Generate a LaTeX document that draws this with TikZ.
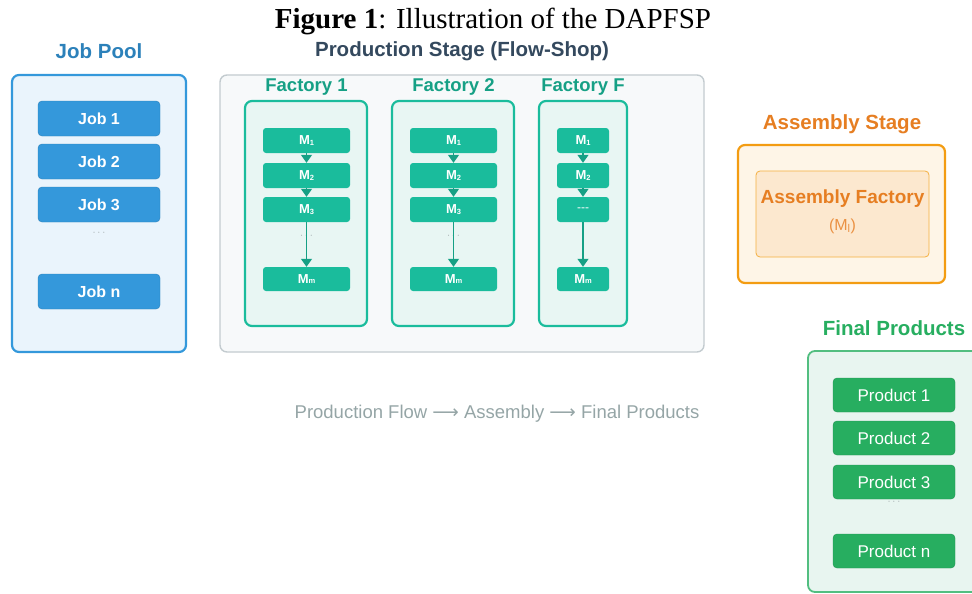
\documentclass[tikz,border=0pt]{standalone}
\usepackage{fontspec}
\setmainfont{Liberation Sans}
\newfontfamily\serifface{Liberation Serif}
\newfontfamily\arrowface{DejaVu Sans}
\usetikzlibrary{arrows.meta}

\definecolor{jobblue}{HTML}{3498DB}
\definecolor{poolfill}{HTML}{EAF4FC}
\definecolor{stagegray}{HTML}{C3CBCF}
\definecolor{stagefill}{HTML}{F7F9FA}
\definecolor{slate}{HTML}{34495E}
\definecolor{teal}{HTML}{1ABC9C}
\definecolor{tealdark}{HTML}{16A085}
\definecolor{factfill}{HTML}{E8F6F3}
\definecolor{orangeline}{HTML}{F39C12}
\definecolor{orangetext}{HTML}{E67E22}
\definecolor{asmfill}{HTML}{FEF5E7}
\definecolor{asminner}{HTML}{FCE8CF}
\definecolor{asminnerline}{HTML}{F5B041}
\definecolor{prodgreen}{HTML}{27AE60}
\definecolor{finalfill}{HTML}{E8F5F0}
\definecolor{captiongray}{HTML}{95A5A6}
\definecolor{dotgray}{HTML}{7F8C8D}

% small machine index, set low beside the M
\newcommand\machidx[1]{\raisebox{-0.8pt}{\fontsize{7.5}{7.5}\selectfont #1}}

\tikzset{
  panel/.style={draw, line width=2.2pt, rounded corners=7pt, inner sep=0pt},
  jobbox/.style={fill=jobblue, draw=jobblue!85!black, line width=0.4pt, rounded corners=4pt,
    minimum width=122pt, minimum height=35pt, text=white, font=\fontsize{16}{18}\selectfont\bfseries, inner sep=0pt},
  machbox/.style={fill=teal, rounded corners=3pt, minimum height=25pt, text=white,
    font=\fontsize{13}{15}\selectfont\bfseries, inner sep=0pt},
  prodbox/.style={fill=prodgreen, draw=prodgreen!85!black, line width=0.4pt, rounded corners=4pt,
    minimum width=122pt, minimum height=34pt, text=white, font=\fontsize{17}{19}\selectfont, inner sep=0pt},
  paneltitle/.style={font=\fontsize{20.5}{22}\selectfont\bfseries, inner sep=0pt},
  facttitle/.style={font=\fontsize{18.5}{20}\selectfont\bfseries, inner sep=0pt, text=tealdark},
  dots/.style={text=dotgray!70, font=\fontsize{11}{11}\selectfont, inner sep=0pt},
  flow/.style={draw=tealdark, line width=1.3pt, -{Triangle[length=8pt,width=11pt]}},
}

\begin{document}
\begin{tikzpicture}[x=1pt,y=-1pt]
\useasboundingbox (0,0) rectangle (972,594);
\clip (0,0) rectangle (972,594);

% caption
\node[font=\serifface\fontsize{29}{31}\selectfont, inner sep=0pt] (caption) at (493,21)
  {\textbf{Figure 1}: Illustration of the DAPFSP};

% ---------------- job pool ----------------
\node[paneltitle, text=jobblue!85!black] (pooltitle) at (99,51) {Job Pool};
\node[panel, draw=jobblue, fill=poolfill, minimum width=174pt, minimum height=277pt] (pool) at (99,213.5) {};
\node[jobbox] (job1) at (99,118.5) {Job 1};
\node[jobbox] (job2) at (99,161.5) {Job 2};
\node[jobbox] (job3) at (99,204.5) {Job 3};
\node[dots] (jobdots) at (99,233) {$\cdots$};
\node[jobbox] (jobn) at (99,291.5) {Job n};

% ---------------- production stage ----------------
\node[paneltitle, text=slate] (stagetitle) at (462,51) {Production Stage (Flow-Shop)};
\node[draw=stagegray, line width=1.4pt, fill=stagefill, rounded corners=7pt, inner sep=0pt,
  minimum width=484pt, minimum height=277pt] (stage) at (462,213.5) {};

% factory 1
\node[facttitle] (f1title) at (306.5,87) {Factory 1};
\node[panel, draw=teal, fill=factfill, minimum width=122pt, minimum height=225pt] (f1) at (306,213.5) {};
\node[machbox, minimum width=87pt] (f1m1) at (306.5,140.5) {M\machidx{1}};
\node[machbox, minimum width=87pt] (f1m2) at (306.5,175.5) {M\machidx{2}};
\node[machbox, minimum width=87pt] (f1m3) at (306.5,209.5) {M\machidx{3}};
\node[machbox, minimum width=87pt, minimum height=24pt] (f1mm) at (306.5,279) {M\machidx{m}};
\node[dots] (f1dots) at (306.5,236) {$\cdots$};
\draw[flow] (f1m1) -- (f1m2);
\draw[flow] (f1m2) -- (f1m3);
\draw[flow] (f1m3) -- (f1mm);

% factory 2
\node[facttitle] (f2title) at (453.5,87) {Factory 2};
\node[panel, draw=teal, fill=factfill, minimum width=122pt, minimum height=225pt] (f2) at (453,213.5) {};
\node[machbox, minimum width=87pt] (f2m1) at (453.5,140.5) {M\machidx{1}};
\node[machbox, minimum width=87pt] (f2m2) at (453.5,175.5) {M\machidx{2}};
\node[machbox, minimum width=87pt] (f2m3) at (453.5,209.5) {M\machidx{3}};
\node[machbox, minimum width=87pt, minimum height=24pt] (f2mm) at (453.5,279) {M\machidx{m}};
\node[dots] (f2dots) at (453.5,236) {$\cdots$};
\draw[flow] (f2m1) -- (f2m2);
\draw[flow] (f2m2) -- (f2m3);
\draw[flow] (f2m3) -- (f2mm);

% factory F
\node[facttitle] (fFtitle) at (583,87) {Factory F};
\node[panel, draw=teal, fill=factfill, minimum width=88pt, minimum height=225pt] (fF) at (583,213.5) {};
\node[machbox, minimum width=52pt] (fFm1) at (583,140.5) {M\machidx{1}};
\node[machbox, minimum width=52pt] (fFm2) at (583,175.5) {M\machidx{2}};
\node[machbox, minimum width=52pt, font=\fontsize{12}{12}\selectfont] (fFm3) at (583,209.5) {-{}-{}-};
\node[machbox, minimum width=52pt, minimum height=24pt] (fFmm) at (583,279) {M\machidx{m}};
\draw[flow] (fFm1) -- (fFm2);
\draw[flow] (fFm2) -- (fFm3);
\draw[flow] (fFm3) -- (fFmm);

% ---------------- assembly stage ----------------
\node[paneltitle, text=orangetext] (asmtitle) at (842,124) {Assembly Stage};
\node[panel, draw=orangeline, fill=asmfill, minimum width=207pt, minimum height=138pt] (asm) at (841.5,214) {};
\node[draw=asminnerline, line width=0.8pt, fill=asminner, rounded corners=4pt, inner sep=0pt,
  minimum width=173pt, minimum height=86pt] (asmfactory) at (842.5,214) {};
\node[text=orangetext, font=\fontsize{19}{21}\selectfont\bfseries, inner sep=0pt] (asmname) at (842.5,199) {Assembly Factory};
\node[text=orangetext!85!white, font=\fontsize{16}{18}\selectfont, inner sep=0pt] (asmmach) at (842.5,226) {(M\textsubscript{l})};

% ---------------- final products ----------------
\node[paneltitle, text=prodgreen] (finaltitle) at (894,328) {Final Products};
\node[panel, line width=1.8pt, draw=prodgreen!80!white, fill=finalfill, minimum width=180pt, minimum height=241pt] (final) at (898,471.5) {};
\node[prodbox] (prod1) at (894,395) {Product 1};
\node[prodbox] (prod2) at (894,438) {Product 2};
\node[prodbox] (prod3) at (894,482) {Product 3};
\node[dots] (proddots) at (894,502) {$\cdots$};
\node[prodbox] (prodn) at (894,551) {Product n};

% ---------------- flow legend ----------------
\node[text=captiongray, font=\fontsize{18.5}{20}\selectfont, inner sep=0pt] (legend) at (497,414)
  {Production Flow {\arrowface ⟶} Assembly {\arrowface ⟶} Final Products};
\end{tikzpicture}
\end{document}
